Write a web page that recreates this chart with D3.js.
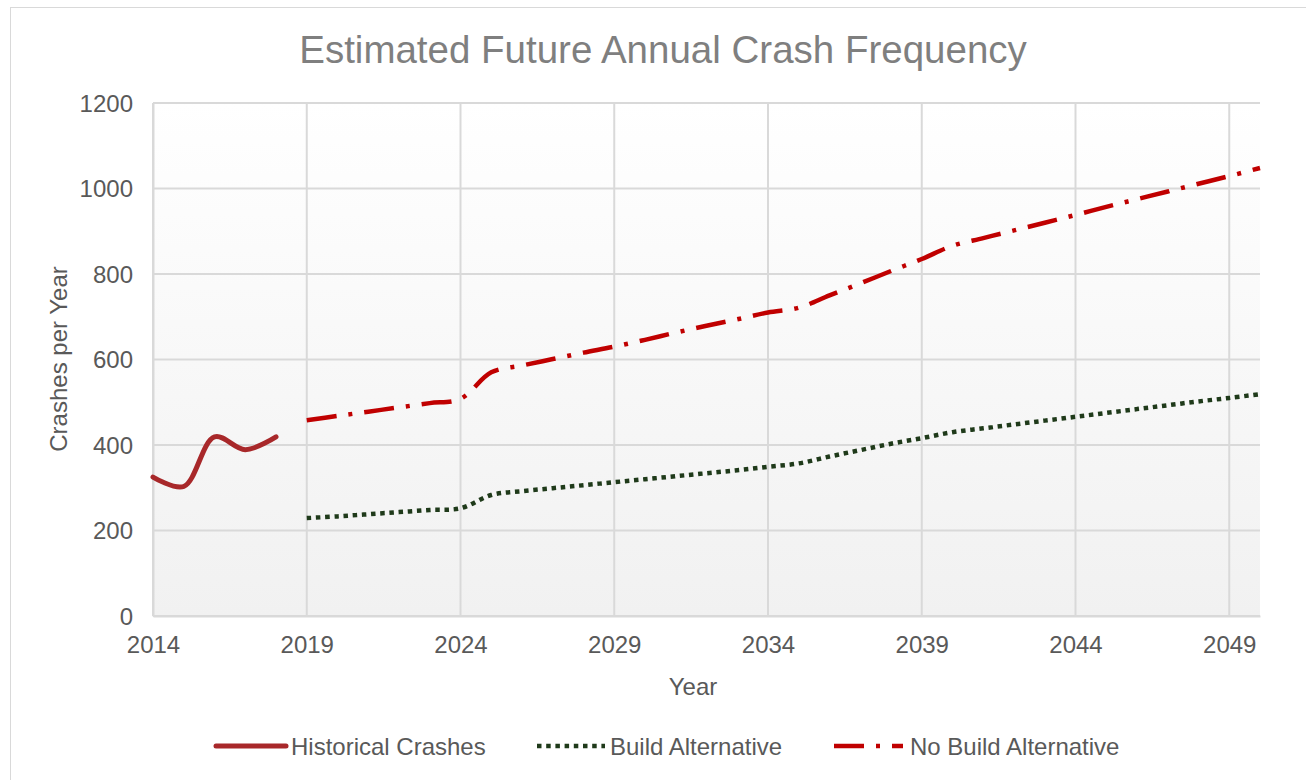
<!DOCTYPE html>
<html>
<head>
<meta charset="utf-8">
<script src="https://cdn.jsdelivr.net/npm/d3@7"></script>
<style>
  html, body { margin: 0; padding: 0; background: #fff; }
  svg { display: block; font-family: "Liberation Sans", Arial, sans-serif; }
</style>
</head>
<body>
<svg id="chart" width="1306" height="780"></svg>
<script>
// Historical crash counts
const histYears = [2014, 2015, 2016, 2017, 2018];
const histValues = [325, 303, 419, 389, 419];

// Forecast years
const forecastYears = [2019, 2020, 2021, 2022, 2023, 2024, 2025, 2026, 2027, 2028,
  2029, 2030, 2031, 2032, 2033, 2034, 2035, 2036, 2037, 2038,
  2039, 2040, 2041, 2042, 2043, 2044, 2045, 2046, 2047, 2048, 2049, 2050];

const buildValues = [229, 233, 238, 243, 248, 252, 283, 292, 299, 306,
  313, 320, 327, 334, 341, 349, 357, 373, 388, 403,
  416, 430, 439, 448, 457, 466, 475, 484, 493, 502, 510, 519];

const noBuildValues = [458, 468, 478, 488, 498, 508, 570, 586, 601, 616,
  630, 646, 663, 679, 694, 710, 721, 750, 778, 807,
  835, 866, 884, 902, 920, 938, 957, 975, 993, 1011, 1029, 1048];

const xTickYears = [2014, 2019, 2024, 2029, 2034, 2039, 2044, 2049];
const yTickValues = [0, 200, 400, 600, 800, 1000, 1200];

const titleText = "Estimated Future Annual Crash Frequency";
const xTitle = "Year";
const yTitle = "Crashes per Year";
const seriesNames = ["Historical Crashes", "Build Alternative", "No Build Alternative"];

const svg = d3.select("#chart");
const plot = { left: 153, right: 1260, top: 103, bottom: 616 };

const x = d3.scaleLinear().domain([2014, 2050]).range([plot.left, plot.right]);
const y = d3.scaleLinear().domain([0, 1200]).range([plot.bottom, plot.top]);

// Outer chart frame
svg.append("rect")
  .attr("x", 10.5).attr("y", 7.5)
  .attr("width", 1400).attr("height", 900)
  .attr("fill", "#fff").attr("stroke", "#d9d9d9").attr("stroke-width", 1);

// Plot area gradient fill
const defs = svg.append("defs");
const grad = defs.append("linearGradient")
  .attr("id", "plotFill").attr("x1", 0).attr("y1", 0).attr("x2", 0).attr("y2", 1);
grad.append("stop").attr("offset", "0%").attr("stop-color", "#ffffff");
grad.append("stop").attr("offset", "100%").attr("stop-color", "#f1f1f1");

svg.append("rect")
  .attr("x", plot.left).attr("y", plot.top)
  .attr("width", plot.right - plot.left).attr("height", plot.bottom - plot.top)
  .attr("fill", "url(#plotFill)");

// Gridlines
const grid = svg.append("g").attr("stroke", "#d9d9d9").attr("stroke-width", 2);
grid.selectAll("line.h").data(yTickValues).join("line")
  .attr("class", "h")
  .attr("x1", plot.left).attr("x2", plot.right)
  .attr("y1", d => y(d)).attr("y2", d => y(d));
grid.selectAll("line.v").data(xTickYears).join("line")
  .attr("class", "v")
  .attr("x1", d => x(d)).attr("x2", d => x(d))
  .attr("y1", plot.top).attr("y2", plot.bottom);

// Axes
const xAxis = d3.axisBottom(x).tickValues(xTickYears).tickFormat(d3.format("d")).tickSize(0).tickPadding(20);
const yAxis = d3.axisLeft(y).tickValues(yTickValues).tickFormat(d3.format("d")).tickSize(0).tickPadding(20);

const gx = svg.append("g").attr("transform", `translate(0,${plot.bottom})`).call(xAxis);
const gy = svg.append("g").attr("transform", `translate(${plot.left},0)`).call(yAxis);
[gx, gy].forEach(g => {
  g.select(".domain").attr("stroke", "#d9d9d9").attr("stroke-width", 2);
  g.selectAll("text").attr("fill", "#595959").attr("font-size", 24)
    .attr("font-family", "'Liberation Sans', Arial, sans-serif");
});
gy.selectAll("text").attr("dy", "0.35em");

// Titles
svg.append("text")
  .attr("x", 663).attr("y", 63)
  .attr("text-anchor", "middle")
  .attr("font-size", 38.5).attr("fill", "#7f7f7f")
  .text(titleText);

svg.append("text")
  .attr("x", 693).attr("y", 695)
  .attr("text-anchor", "middle")
  .attr("font-size", 24).attr("fill", "#595959")
  .text(xTitle);

svg.append("text")
  .attr("transform", `translate(67,359) rotate(-90)`)
  .attr("text-anchor", "middle")
  .attr("font-size", 24).attr("fill", "#595959")
  .text(yTitle);

// Series styles
const styles = [
  { color: "#a8282a", width: 5, dash: null, cap: "round" },
  { color: "#1f3a1a", width: 4.5, dash: "4.5,4.7", cap: "butt" },
  { color: "#c00000", width: 4.5, dash: "30,12,4,12", cap: "butt" }
];

const line = d3.line()
  .x(d => x(d[0])).y(d => y(d[1]))
  .curve(d3.curveCatmullRom.alpha(0.5));

const series = [
  d3.zip(histYears, histValues),
  d3.zip(forecastYears, buildValues),
  d3.zip(forecastYears, noBuildValues)
];

svg.append("g").selectAll("path").data(series).join("path")
  .attr("d", line)
  .attr("fill", "none")
  .attr("stroke", (d, i) => styles[i].color)
  .attr("stroke-width", (d, i) => styles[i].width)
  .attr("stroke-linecap", (d, i) => styles[i].cap)
  .attr("stroke-dasharray", (d, i) => styles[i].dash);

// Legend
const legendItems = [
  { x1: 216, x2: 286, tx: 291 },
  { x1: 537, x2: 605, tx: 610 },
  { x1: 834, x2: 903, tx: 910 }
];
const legend = svg.append("g");
legendItems.forEach((it, i) => {
  legend.append("line")
    .attr("x1", it.x1).attr("x2", it.x2)
    .attr("y1", 746).attr("y2", 746)
    .attr("stroke", styles[i].color)
    .attr("stroke-width", styles[i].width)
    .attr("stroke-linecap", styles[i].cap)
    .attr("stroke-dasharray", styles[i].dash);
  legend.append("text")
    .attr("x", it.tx).attr("y", 755)
    .attr("font-size", 24).attr("fill", "#595959")
    .text(seriesNames[i]);
});
</script>
</body>
</html>
